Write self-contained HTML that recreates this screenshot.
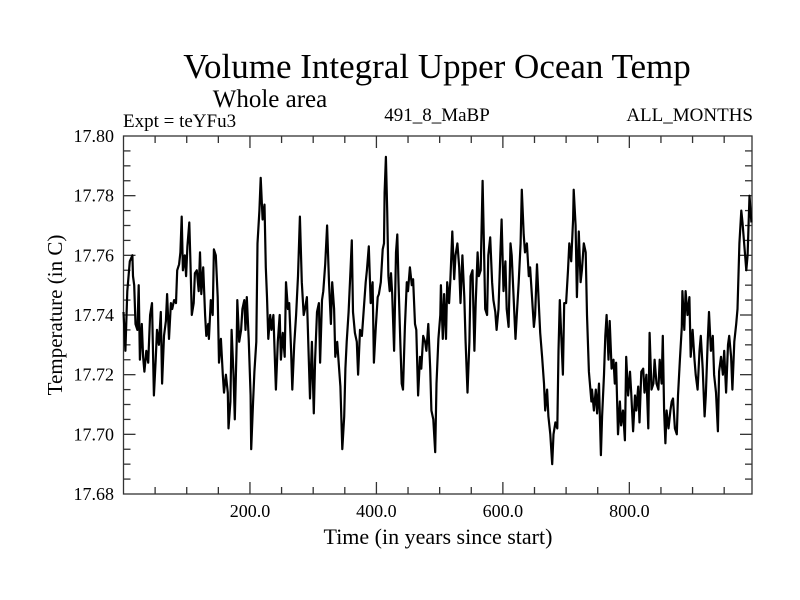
<!DOCTYPE html>
<html><head><meta charset="utf-8"><style>
html,body{margin:0;padding:0;background:#fff;}
svg{display:block;font-family:"Liberation Serif",serif;}
</style></head><body>
<svg id="chart" width="800" height="600" viewBox="0 0 800 600">
<rect x="0" y="0" width="800" height="600" fill="#fff"/>
<text x="437" y="78" font-size="35" text-anchor="middle">Volume Integral Upper Ocean Temp</text>
<text x="270" y="107" font-size="25" text-anchor="middle">Whole area</text>
<text x="123" y="127" font-size="19">Expt = teYFu3</text>
<text x="437" y="121" font-size="19" text-anchor="middle">491_8_MaBP</text>
<text x="753" y="121" font-size="19" text-anchor="end">ALL_MONTHS</text>
<text x="438" y="544" font-size="22" text-anchor="middle">Time (in years since start)</text>
<text transform="translate(62,315) rotate(-90)" font-size="21" text-anchor="middle">Temperature (in C)</text>
<g id="axes"></g>
<path id="series" fill="none" stroke="#000" stroke-width="2.2" stroke-linejoin="round"/>
</svg>
<script>
const years = [0,3,6,10,14,15,17,19,22,24,26,29,31,33,36,39,42,45,48,51,53,56,59,61,64,67,69,72,75,77,80,83,85,88,90,92,94,97,99,101,104,106,108,111,113,116,119,121,123,126,129,131,134,135,138,141,143,146,149,151,154,157,159,162,165,166,169,171,174,176,179,180,183,186,188,191,193,195,198,201,202,205,207,210,212,215,217,220,223,225,227,229,232,234,237,
241,244,247,249,252,255,257,260,262,265,267,270,273,276,279,282,285,287,290,293,295,298,301,303,306,309,311,314,316,319,322,325,328,330,333,335,338,341,343,346,349,351,353,356,359,361,363,366,369,371,374,377,380,383,385,388,391,394,396,399,402,404,407,410,412,413,415,417,419,421,423,425,428,431,433,435,438,440,442,445,448,450,453,456,458,461,463,466,469,471,474,477,479,482,485,
487,490,493,495,498,501,502,505,507,510,512,515,517,520,523,525,528,531,533,536,539,541,544,547,549,552,555,557,560,562,565,568,570,572,575,577,580,583,585,588,590,593,596,598,601,604,606,609,612,614,617,620,622,625,628,630,633,635,638,641,643,646,649,651,654,657,659,662,665,667,670,672,675,678,680,683,686,688,690,692,695,697,700,703,705,708,711,712,715,717,720,723,725,728,731,733,736,740,
741,744,747,749,752,755,757,760,762,764,767,769,772,775,777,779,782,785,787,790,793,795,798,801,803,806,809,811,814,816,819,822,824,827,830,832,835,838,840,843,846,848,851,853,855,857,859,862,865,867,869,872,875,877,880,883,884,887,889,892,895,897,900,903,905,908,911,913,916,919,921,924,926,929,932,934,937,940,942,945,948,950,953,956,958,961,963,966,969,971,974,977,979,982,985,987,990,993];
const temps = [17.741,17.728,17.748,17.758,17.760,17.753,17.750,17.737,17.735,17.750,17.725,17.737,17.726,17.721,17.728,17.724,17.740,17.744,17.713,17.725,17.735,17.730,17.741,17.717,17.733,17.738,17.747,17.732,17.744,17.742,17.745,17.744,17.755,17.757,17.761,17.773,17.755,17.760,17.753,17.763,17.771,17.757,17.740,17.744,17.754,17.755,17.748,17.761,17.747,17.756,17.740,17.733,17.737,17.732,17.745,17.740,17.762,17.760,17.746,17.724,17.732,17.720,17.714,17.720,17.714,17.702,17.711,17.735,17.720,17.705,17.731,17.745,17.731,17.735,17.742,17.745,17.735,17.746,17.732,17.713,17.695,17.711,17.721,17.731,17.764,17.775,17.786,17.772,17.777,17.756,17.746,17.732,17.740,17.735,17.740,
17.715,17.731,17.740,17.725,17.734,17.726,17.751,17.742,17.744,17.728,17.715,17.730,17.740,17.753,17.773,17.751,17.740,17.742,17.746,17.725,17.712,17.731,17.707,17.725,17.741,17.744,17.724,17.745,17.748,17.757,17.770,17.751,17.737,17.751,17.742,17.726,17.731,17.722,17.716,17.695,17.706,17.722,17.731,17.741,17.755,17.765,17.741,17.734,17.731,17.720,17.735,17.733,17.742,17.751,17.755,17.763,17.744,17.751,17.724,17.736,17.746,17.747,17.751,17.762,17.764,17.781,17.793,17.775,17.753,17.748,17.754,17.747,17.728,17.761,17.767,17.751,17.730,17.717,17.715,17.736,17.751,17.748,17.756,17.750,17.752,17.737,17.735,17.713,17.726,17.722,17.733,17.731,17.728,17.737,17.722,
17.708,17.705,17.694,17.717,17.732,17.740,17.750,17.732,17.747,17.732,17.751,17.744,17.752,17.768,17.752,17.760,17.764,17.756,17.744,17.760,17.746,17.731,17.714,17.731,17.753,17.755,17.728,17.744,17.761,17.753,17.755,17.785,17.764,17.742,17.740,17.760,17.766,17.751,17.745,17.741,17.735,17.742,17.760,17.772,17.748,17.758,17.742,17.736,17.764,17.760,17.746,17.732,17.740,17.751,17.764,17.782,17.767,17.761,17.764,17.753,17.756,17.746,17.736,17.740,17.757,17.743,17.734,17.726,17.717,17.708,17.715,17.706,17.700,17.690,17.700,17.704,17.702,17.728,17.745,17.735,17.720,17.744,17.744,17.755,17.764,17.758,17.772,17.782,17.770,17.746,17.768,17.751,17.755,17.764,17.761,17.740,17.721,17.711,
17.715,17.708,17.715,17.707,17.717,17.693,17.706,17.720,17.733,17.740,17.725,17.738,17.722,17.725,17.717,17.724,17.700,17.711,17.703,17.708,17.698,17.726,17.713,17.721,17.714,17.701,17.713,17.708,17.716,17.704,17.721,17.722,17.714,17.720,17.702,17.734,17.715,17.717,17.725,17.717,17.715,17.725,17.717,17.733,17.708,17.697,17.708,17.702,17.708,17.711,17.712,17.702,17.700,17.713,17.725,17.736,17.748,17.735,17.748,17.740,17.746,17.726,17.735,17.725,17.720,17.715,17.728,17.733,17.722,17.706,17.713,17.731,17.741,17.728,17.733,17.720,17.714,17.701,17.721,17.726,17.720,17.728,17.714,17.730,17.733,17.726,17.715,17.731,17.737,17.742,17.764,17.775,17.771,17.763,17.755,17.760,17.780,17.771,17.777,17.764];
const xTickValues = [200,400,600,800];
const xTickLabels = ["200.0","400.0","600.0","800.0"];
const yTickValues = [17.68,17.70,17.72,17.74,17.76,17.78,17.80];
const yTickLabels = ["17.68","17.70","17.72","17.74","17.76","17.78","17.80"];

const L=123.5,R=752,T=136,B=494;
const X0=0,X1=994,Y0=17.68,Y1=17.80;
function xs(v){return L+(v-X0)/(X1-X0)*(R-L);}
function ys(v){return B-(v-Y0)/(Y1-Y0)*(B-T);}
const NS="http://www.w3.org/2000/svg";
const axes=document.getElementById('axes');
function line(x1,y1,x2,y2,name){
  const l=document.createElementNS(NS,'line');
  l.setAttribute('x1',x1);l.setAttribute('y1',y1);l.setAttribute('x2',x2);l.setAttribute('y2',y2);
  l.setAttribute('stroke','#333');l.setAttribute('stroke-width','1.3');
  
  
  axes.appendChild(l);
}
function text(x,y,s,anchor,name){
  const t=document.createElementNS(NS,'text');
  t.setAttribute('x',x);t.setAttribute('y',y);t.setAttribute('font-size','18');t.setAttribute('text-anchor',anchor);
  t.textContent=s;
  
  
  axes.appendChild(t);
}
const frame=document.createElementNS(NS,'rect');
frame.setAttribute('x',L);frame.setAttribute('y',T);frame.setAttribute('width',R-L);frame.setAttribute('height',B-T);
frame.setAttribute('fill','none');frame.setAttribute('stroke','#333');frame.setAttribute('stroke-width','1.3');


axes.appendChild(frame);
for(let v=50;v<X1;v+=50){
  const major=v%200===0, len=major?12:7, x=xs(v);
  line(x,B,x,B-len,'x-tick');
  line(x,T,x,T+len,'x-tick-top');
}
xTickValues.forEach((v,i)=>text(xs(v),517,xTickLabels[i],'middle','x-tick-label'));
for(let v=Y0+0.005;v<Y1-0.001;v+=0.005){
  const major=Math.abs(Math.round(v*100)/100-v)<1e-6 && Math.round(v*100)%2===0;
  const len=major?12:7, y=ys(v);
  line(L,y,L+len,y,'y-tick');
  line(R,y,R-len,y,'y-tick-right');
}
yTickValues.forEach((v,i)=>text(114,ys(v)+6,yTickLabels[i],'end','y-tick-label'));
let d='';
years.forEach((yr,i)=>{d+=(i?'L':'M')+xs(yr).toFixed(1)+','+ys(temps[i]).toFixed(1);});
document.getElementById('series').setAttribute('d',d);
</script>
</body></html>
